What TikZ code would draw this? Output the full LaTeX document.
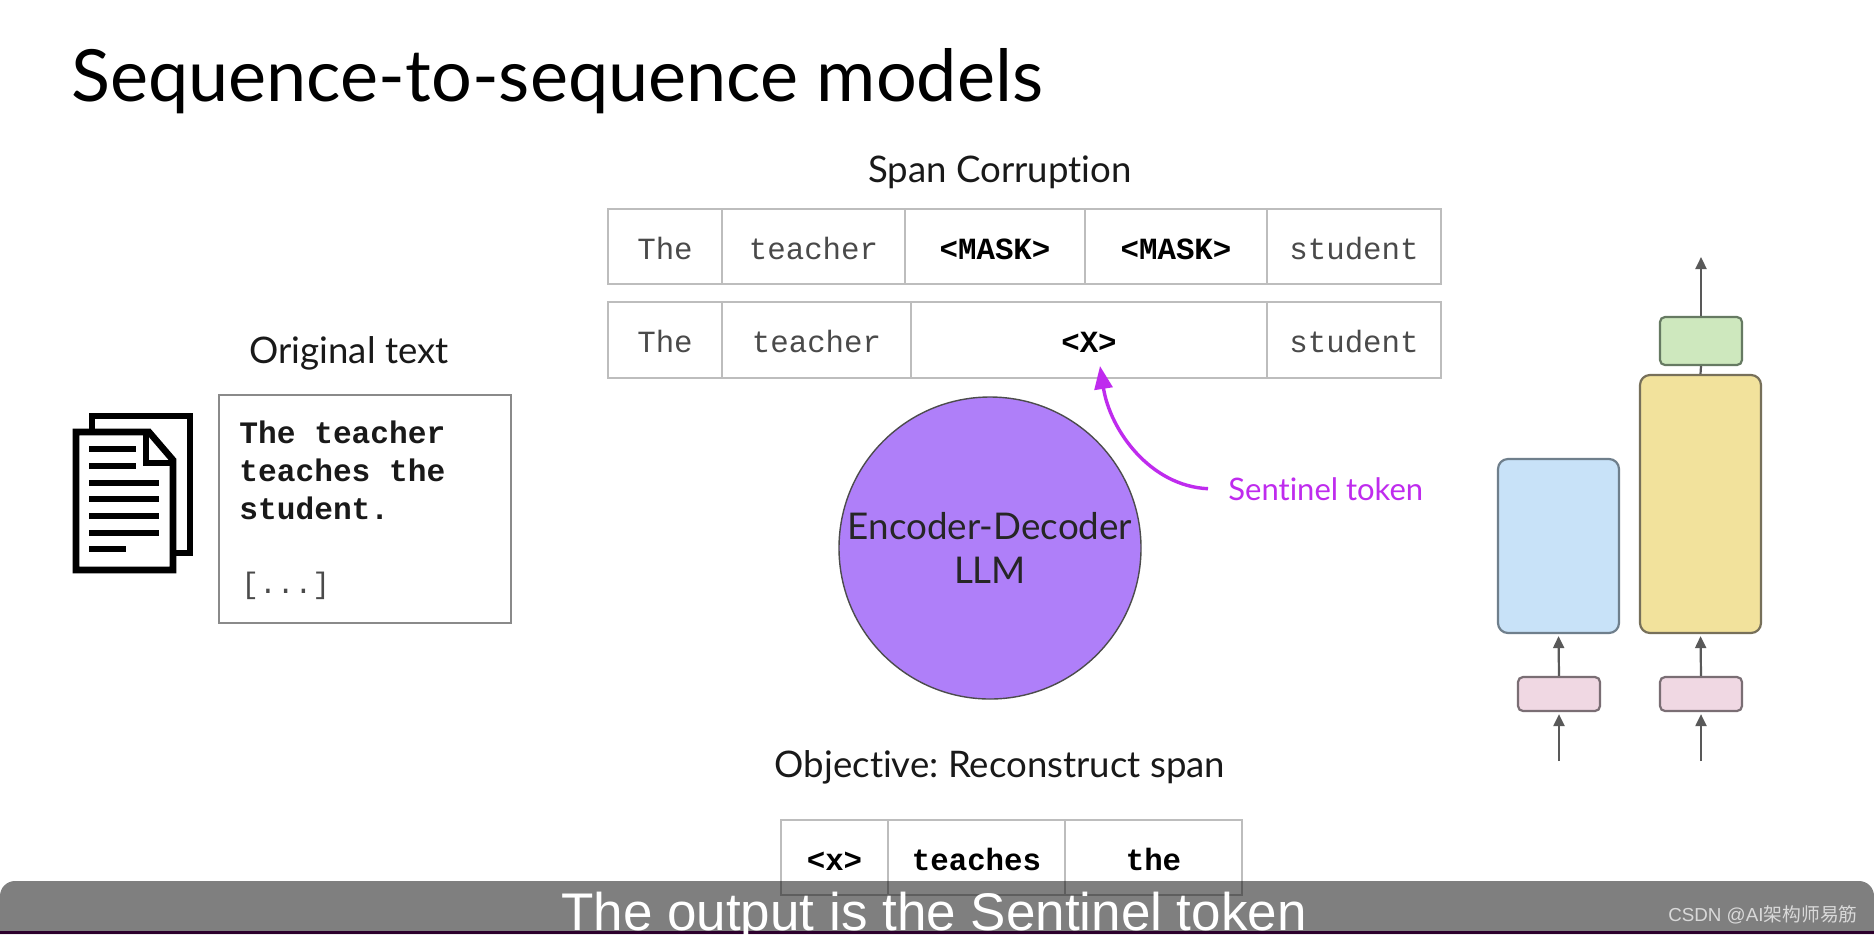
\documentclass[tikz,border=0pt]{standalone}
\usepackage{fontspec}
\setmainfont[Ligatures=NoCommon]{Lato}
\setmonofont{Liberation Mono}
\newfontfamily\subfont{Liberation Sans}
\newfontfamily\cjkfont{Noto Sans CJK SC}
\usetikzlibrary{arrows.meta}
\definecolor{cellline}{HTML}{BDBDBD}
\definecolor{boxline}{HTML}{8A8A8A}
\definecolor{monogray}{HTML}{4A4A4A}
\definecolor{purplefill}{HTML}{AF7FF9}
\definecolor{magentaa}{HTML}{BF2BEE}
\definecolor{arrowgray}{HTML}{595959}
\definecolor{bluefill}{HTML}{C8E2F8}
\definecolor{blueline}{HTML}{6F7F8C}
\definecolor{yellowfill}{HTML}{F2E29C}
\definecolor{yellowline}{HTML}{77705A}
\definecolor{greenfill}{HTML}{CEE8BE}
\definecolor{greenline}{HTML}{667A62}
\definecolor{pinkfill}{HTML}{F0D8E3}
\definecolor{pinkline}{HTML}{7A6E74}
\tikzset{
  x=0.5pt,y=-0.5pt,
  cell/.style={draw=cellline,line width=0.7pt,fill=white,inner sep=0pt,font=\fontsize{15.4pt}{18pt}\ttfamily,text=monogray,text height=14pt,text depth=1.5pt},
  boldcell/.style={cell,font=\fontsize{15.4pt}{18pt}\ttfamily\bfseries,text=black},
  label/.style={inner sep=0pt,font=\frenchspacing\fontsize{18.3pt}{22pt}\selectfont,text=black!90,anchor=base},
  block/.style={draw,line width=1.1pt,rounded corners=5pt,inner sep=0pt},
  small/.style={draw,line width=1.1pt,rounded corners=2.5pt,inner sep=0pt},
  flow/.style={draw=arrowgray,line width=1.1pt,-{Triangle[length=6pt,width=5.5pt]}},
  docline/.style={draw=black,line width=3.3pt},
}
% \pxbox{name}{x1}{y1}{x2}{y2}{style}{text}
\newcommand{\pxbox}[7]{%
  \pgfmathsetmacro{\cxx}{(#2+#4)/2}\pgfmathsetmacro{\cyy}{(#3+#5)/2}%
  \pgfmathsetmacro{\wdd}{(#4-#2)/2}\pgfmathsetmacro{\htt}{(#5-#3)/2}%
  \node[#6,minimum width=\wdd pt,minimum height=\htt pt] (#1) at (\cxx,\cyy) {#7};}
\begin{document}
\begin{tikzpicture}
\useasboundingbox (0,0) rectangle (1874,934);
\fill[white] (0,0) rectangle (1874,934);
% title
\node[inner sep=0pt,anchor=base west,font=\fontsize{36pt}{42pt}\selectfont,text=black] (title) at (71,101) {Sequence-to-sequence models};
% original text
\node[label] (orig) at (349,363) {Original text};
\pxbox{origbox}{219}{395}{511}{623}{draw=boxline,line width=0.9pt,fill=white}{}
\node[inner sep=0pt,anchor=base west,align=left,font=\fontsize{15.6pt}{18.9pt}\ttfamily\bfseries,text=black!90] (origtext) at (239,519) {The teacher\\teaches the\\student.};
\node[inner sep=0pt,anchor=base west,font=\fontsize{14.8pt}{18pt}\ttfamily,text=monogray] (origdots) at (241,593) {[...]};
% document icon
\draw[docline,fill=white,line join=miter] (92,429) |- (190,416) |- (176,553);
\draw[docline,fill=white,line join=miter] (76,432) -- (149,432) -- (173,460) -- (173,570) -- (76,570) -- cycle;
\draw[docline,line join=miter] (146,432) -- (146,463) -- (173,463);
\foreach \yy/\xe in {449/136,466/136,483/159,499/159,516/159,533/159,549/126}{
  \draw[draw=black,line width=3pt] (89,\yy) -- (\xe,\yy);
}
% span corruption
\node[label] (span) at (1000,182) {Span Corruption};
\pxbox{ra}{608}{209}{722}{284}{cell}{The}
\pxbox{rb}{722}{209}{905}{284}{cell}{teacher}
\pxbox{rc}{905}{209}{1085}{284}{boldcell}{<MASK>}
\pxbox{rd}{1085}{209}{1267}{284}{boldcell}{<MASK>}
\pxbox{re}{1267}{209}{1441}{284}{cell}{student}
\pxbox{sa}{608}{302}{722}{378}{cell}{The}
\pxbox{sb}{722}{302}{911}{378}{cell}{teacher}
\pxbox{sc}{911}{302}{1267}{378}{boldcell}{<X>}
\pxbox{sd}{1267}{302}{1441}{378}{cell}{student}
% LLM
\node[circle,draw=black!70,line width=0.7pt,fill=purplefill,minimum size=151pt,inner sep=0pt,align=center,font=\fontsize{18.4pt}{22pt}\selectfont,text=black!85] (llm) at (990,548) {Encoder-Decoder\\LLM};
% sentinel
\node[inner sep=0pt,anchor=base west,font=\fontsize{15.5pt}{18pt}\selectfont,text=magentaa] (sent) at (1228,500) {Sentinel token};
\coordinate (senttip) at (1100,366);
\draw[draw=magentaa,line width=1.7pt,-{Triangle[length=11.5pt,width=9pt]}] ([xshift=-10pt]sent.west) .. controls (1150,486) and (1110,430) .. (senttip);
% objective
\node[label] (obj) at (1000,777) {Objective: Reconstruct span};
\pxbox{ta}{781}{820}{888}{895}{boldcell}{<x>}
\pxbox{tb}{888}{820}{1065}{895}{boldcell}{teaches}
\pxbox{tc}{1065}{820}{1242}{895}{boldcell}{the}
% transformer sketch
\pxbox{blue}{1498}{459}{1619}{633}{block,draw=blueline,fill=bluefill}{}
\pxbox{yellow}{1640}{375}{1761}{633}{block,draw=yellowline,fill=yellowfill}{}
\pxbox{green}{1660}{317}{1742}{365}{small,draw=greenline,fill=greenfill}{}
\pxbox{pinka}{1518}{677}{1600}{711}{small,draw=pinkline,fill=pinkfill}{}
\pxbox{pinkb}{1660}{677}{1742}{711}{small,draw=pinkline,fill=pinkfill}{}
\coordinate (ina) at (1559,761);
\coordinate (inb) at (1701,761);
\coordinate (outtop) at (1701,257);
\draw[flow] (ina) -- ([yshift=-1pt]pinka.south);
\draw[flow] (inb) -- ([yshift=-1pt]pinkb.south);
\draw[flow] (pinka.north) -- ([yshift=-1pt]blue.south);
\draw[flow] (pinkb.north) -- ([yshift=-1pt]yellow.south);
\draw[draw=arrowgray,line width=1.1pt] (yellow.north) -- (green.south);
\draw[flow] (green.north) -- (outtop);
% caption banner
\fill[black,opacity=0.5] (0,934) -- (0,896) arc[start angle=180,end angle=90,radius=7.5pt] -- (1859,881) arc[start angle=90,end angle=0,radius=7.5pt] -- (1874,934) -- cycle;
\fill[black!50!violet!70!black] (0,931) rectangle (1874,934);
\node[inner sep=0pt,anchor=base,font=\subfont\fontsize{26.5pt}{30pt}\selectfont,text=white] (cap) at (934,930) {The output is the Sentinel token};
\node[inner sep=0pt,anchor=base east,font=\subfont\fontsize{9.4pt}{11pt}\selectfont,text=white!85!black] (mark) at (1858,921) {CSDN @AI{\cjkfont 架构师易筋}};
\end{tikzpicture}
\end{document}
